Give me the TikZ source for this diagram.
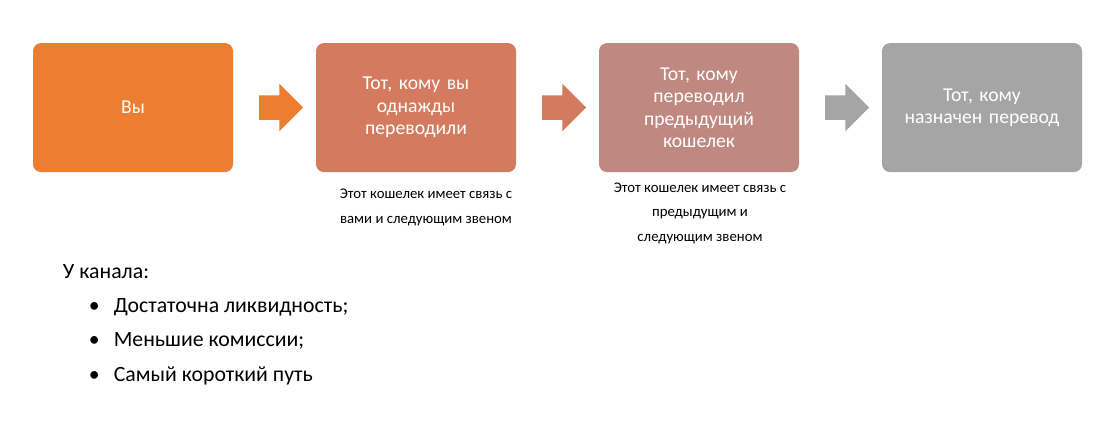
\documentclass[tikz,border=0pt]{standalone}
\usepackage{fontspec}
\setmainfont{Carlito}
\usetikzlibrary{shapes.arrows, positioning}
\definecolor{cOrange}{HTML}{ED7D31}
\definecolor{cRust}{HTML}{D47B5F}
\definecolor{cRose}{HTML}{BF8880}
\definecolor{cGrey}{HTML}{A5A5A5}
\tikzstyle{stepnode} = [rectangle,rounded corners=0.2cm,minimum width=5cm,minimum height=3.225cm,text width=4.2cm,align=center,text=white,font=\fontsize{14}{16}\selectfont]
\tikzstyle{pointer}  = [single arrow,inner sep=0.3cm,minimum height=1.1cm,single arrow head extend=0.29cm,draw=none]
\tikzstyle{note}     = [align=center,font=\fontsize{10.5}{17.5}\selectfont]
\tikzstyle{listline} = [anchor=west,font=\fontsize{15.5}{18}\selectfont]
\begin{document}
\begin{tikzpicture}
        \useasboundingbox (0,0) rectangle (27.625,-10.575);

        \node[stepnode,fill=cOrange] (you)    at (3.325,-2.69)  {Вы};
        \node[stepnode,fill=cRust]   (first)  at (10.4,-2.69)   {Тот, кому вы однажды переводили};
        \node[stepnode,fill=cRose]   (middle) at (17.475,-2.69) {Тот, кому переводил предыдущий кошелек};
        \node[stepnode,fill=cGrey]   (target) at (24.55,-2.69)  {Тот, кому назначен перевод};

        \node[pointer,fill=cOrange] (arrow 1) at (6.875,-2.69)  {};
        \node[pointer,fill=cRust]   (arrow 2) at (13.95,-2.69)  {};
        \node[pointer,fill=cGrey]   (arrow 3) at (21.025,-2.69) {};

        \node[note] (note first)  at (10.65,-5.18) {Этот кошелек имеет связь с\\ вами и следующим звеном};
        \node[note] (note middle) at (17.5,-5.33)  {Этот кошелек имеет связь с\\ предыдущим и\\ следующим звеном};

        \node[listline] (channel) at (1.45,-6.8)  {У канала:};
        \node[listline] (item 1)  at (2.1,-7.68)  {\textbullet\hspace{0.35cm}Достаточна ликвидность;};
        \node[listline] (item 2)  at (2.1,-8.53)  {\textbullet\hspace{0.35cm}Меньшие комиссии;};
        \node[listline] (item 3)  at (2.1,-9.4)   {\textbullet\hspace{0.35cm}Самый короткий путь};
    \end{tikzpicture}
\end{document}
